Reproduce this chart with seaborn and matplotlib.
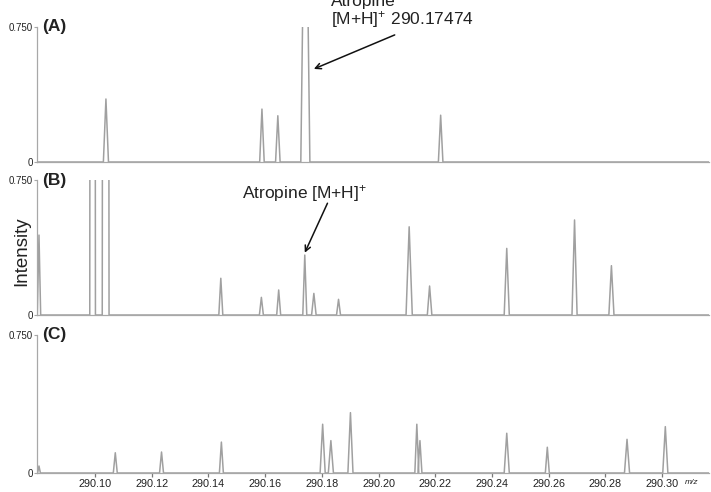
import numpy as np
import pandas as pd
import matplotlib
matplotlib.use("Agg")
import matplotlib.pyplot as plt
import seaborn as sns

sns.set_theme(style="white")
plt.rcParams["font.family"] = ["Liberation Sans", "DejaVu Sans"]
plt.rcParams["mathtext.fontset"] = "custom"
plt.rcParams["mathtext.rm"] = "Liberation Sans"
plt.rcParams["mathtext.default"] = "regular"

# ---- data: peak centres (m/z), heights (intensity), half widths ----
a_mz = [290.1039, 290.1589, 290.1645, 290.1742, 290.2219]
a_int = [0.35, 0.294, 0.257, 2.0, 0.26]
a_hw = [0.0009, 0.0008, 0.0008, 0.0016, 0.0008]

b_mz = [290.0803, 290.0992, 290.1038, 290.1444, 290.1587, 290.1648, 290.1740,
        290.1772, 290.1859, 290.2108, 290.2180, 290.2452, 290.2691, 290.2821]
b_int = [0.444, 20.0, 20.0, 0.204, 0.098, 0.139, 0.333,
         0.12, 0.087, 0.49, 0.161, 0.37, 0.528, 0.274]
b_hw = [0.0006, 0.0010, 0.0012, 0.0007, 0.0007, 0.0007, 0.0007,
        0.0008, 0.0007, 0.0011, 0.0008, 0.0009, 0.0009, 0.0009]

c_mz = [290.0803, 290.1072, 290.1235, 290.1446, 290.1803, 290.1832, 290.1901,
        290.2135, 290.2146, 290.2452, 290.2595, 290.2876, 290.3011]
c_int = [0.038, 0.11, 0.114, 0.168, 0.265, 0.176, 0.328,
         0.265, 0.176, 0.216, 0.14, 0.183, 0.252]
c_hw = [0.0005, 0.0007, 0.0007, 0.0007, 0.0009, 0.0009, 0.0009,
        0.0007, 0.0007, 0.0009, 0.0007, 0.0009, 0.0009]

panel_labels = ["(A)", "(B)", "(C)"]
x_ticks = [290.10, 290.12, 290.14, 290.16, 290.18, 290.20, 290.22,
           290.24, 290.26, 290.28, 290.30]
x_min, x_max = 290.0796, 290.3165
y_max = 0.75

line_col = "#a0a0a0"
axis_col = "#a8a8a8"
text_col = "#222222"


def trace(mz, inten, hw):
    xs, ys = [x_min], [0.0]
    for c, h, w in sorted(zip(mz, inten, hw)):
        xs += [max(c - w, x_min), c, c + w]
        ys += [0.0, h, 0.0]
    xs.append(x_max)
    ys.append(0.0)
    return pd.DataFrame({"mz": xs, "intensity": ys})


fig = plt.figure(figsize=(7.11, 4.92), dpi=100)
H = 492.0
W = 711.0
left = 37 / W
width = (709 - 37) / W
rects = [
    (left, 1 - 162 / H, width, 135 / H),
    (left, 1 - 315 / H, width, 135 / H),
    (left, 1 - 473 / H, width, 138 / H),
]
datasets = [(a_mz, a_int, a_hw), (b_mz, b_int, b_hw), (c_mz, c_int, c_hw)]
axes = []
for i, (rect, (mz, it, hw)) in enumerate(zip(rects, datasets)):
    ax = fig.add_axes(rect)
    df = trace(mz, it, hw)
    sns.lineplot(data=df, x="mz", y="intensity", sort=False, estimator=None,
                 color=line_col, linewidth=1.1, ax=ax)
    ax.set_xlim(x_min, x_max)
    ax.set_ylim(0, y_max)
    ax.set_xlabel("")
    ax.set_ylabel("")
    for s in ["top", "right"]:
        ax.spines[s].set_visible(False)
    for s in ["left", "bottom"]:
        ax.spines[s].set_color(axis_col)
        ax.spines[s].set_linewidth(0.9)
    ax.set_yticks([0, 0.75])
    ax.set_yticklabels(["0", "0.750"])
    ax.tick_params(axis="y", which="both", left=True, length=2, width=0.8,
                   color=axis_col, labelsize=7, labelcolor=text_col, pad=1)
    if i < 2:
        ax.set_xticks([])
    else:
        ax.set_xticks(x_ticks)
        ax.set_xticklabels([f"{t:.2f}" for t in x_ticks])
        ax.tick_params(axis="x", which="both", bottom=True, direction="out",
                       length=3, width=0.9, color="#777777", labelsize=7.8,
                       labelcolor=text_col, pad=1.5)
    ax.text(0.008, 1.0, panel_labels[i], transform=ax.transAxes,
            fontsize=12.5, fontweight="bold", color=text_col,
            ha="left", va="center")
    ax.patch.set_alpha(0)
    axes.append(ax)

# annotations
axA, axB, axC = axes
axA.text(290.1832, 0.836, "Atropine\n[M+H]$^{+}$ 290.17474", fontsize=12.5,
         color=text_col, ha="left", va="center", linespacing=1.0, clip_on=False)
axA.annotate("", xy=(290.1772, 0.517), xytext=(290.2057, 0.706),
             arrowprops=dict(arrowstyle="->", color="#111111", lw=1.1,
                             shrinkA=0, shrinkB=0, mutation_scale=10),
             annotation_clip=False)

axB.text(290.1520, 0.676, "Atropine [M+H]$^{+}$", fontsize=12.5,
         color=text_col, ha="left", va="center", clip_on=False)
axB.annotate("", xy=(290.1740, 0.346), xytext=(290.1820, 0.621),
             arrowprops=dict(arrowstyle="->", color="#111111", lw=1.1,
                             shrinkA=0, shrinkB=0, mutation_scale=10),
             annotation_clip=False)

fig.text(21.5 / W, 1 - 251.5 / H, "Intensity", rotation=90, fontsize=13.5,
         color=text_col, ha="center", va="center")
fig.text(692 / W, 1 - 482 / H, "m/z", fontsize=6, style="italic",
         color=text_col, ha="center", va="center")

fig.savefig("out.png", dpi=100)
